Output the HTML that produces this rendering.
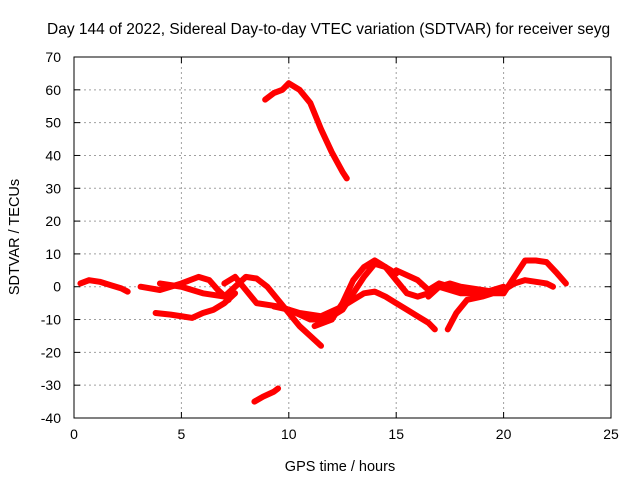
<!DOCTYPE html>
<html><head><meta charset="utf-8"><style>
html,body{margin:0;padding:0;background:#fff;}
svg{display:block;font-family:"Liberation Sans",sans-serif;}
</style></head><body>
<svg id="chart" width="640" height="480" viewBox="0 0 640 480">
<text x="47" y="34" font-size="15.5" fill="#000">Day 144 of 2022, Sidereal Day-to-day VTEC variation (SDTVAR) for receiver seyg</text>
<g id="grid"></g>
<g id="axes"></g>
<g id="series"></g>
<text x="340" y="471" font-size="14.5" text-anchor="middle">GPS time / hours</text>
<text transform="translate(19,237) rotate(-90)" font-size="14.5" text-anchor="middle">SDTVAR / TECUs</text>
</svg>
<script>
const xTicks=[0,5,10,15,20,25];
const yTicks=[-40,-30,-20,-10,0,10,20,30,40,50,60,70];
const track1=[[0.3,1],[0.7,2],[1.2,1.5],[1.7,0.5],[2.2,-0.5],[2.5,-1.5]];
const track2=[[8.9,57],[9.3,59],[9.7,60],[10,62],[10.5,60],[11,56],[11.5,48],[12,41],[12.5,35],[12.7,33]];
const track3=[[8.4,-35],[8.8,-33.5],[9.3,-32],[9.5,-31]];
const track4=[[3.8,-8],[4.5,-8.5],[5,-9],[5.5,-9.5],[6,-8],[6.5,-7],[7,-5],[7.5,-2]];
const track5=[[3.1,0],[4,-1],[5,1],[5.8,3],[6.3,2],[6.7,-1],[7.2,-4]];
const track6=[[4,1],[5,0],[6,-2],[7,-3],[7.5,0],[8,3],[8.5,2.5],[9,0],[9.5,-4],[10,-8],[10.5,-12],[11,-15],[11.5,-18]];
const track7=[[7,1],[7.5,3],[8,-1],[8.5,-5],[9.5,-6],[10.5,-8],[11.5,-9],[12.5,-6],[13,-4],[13.5,-2],[14,-1.5],[14.5,-3],[15,-5],[15.5,-7],[16,-9],[16.5,-11],[16.8,-13]];
const track8=[[11.2,-12],[12,-10],[12.5,-5],[13,2],[13.5,6],[14,8],[14.5,6],[15,2],[15.5,-2],[16,-3],[16.5,-2],[17,0],[17.5,1],[18,0],[19,-1],[20,-2]];
const track9=[[15,5],[16,2],[16.5,-1],[17,1],[18,-1],[19,-2],[20,-1],[20.5,1],[21,2],[22,1],[22.3,0]];
const track10=[[16.5,-3],[17,0],[17.5,-1],[18,-2],[19,-2],[20,0]];
const track11=[[17.4,-13],[17.8,-8],[18.3,-4],[19,-3],[19.5,-2],[20,-2],[20.5,3],[21,8],[21.5,8],[22,7.5],[22.5,4],[22.9,1]];
const track12=[[9.3,-6],[10,-7],[11,-10],[11.5,-10],[12,-9],[12.5,-7],[13,-2],[13.5,3],[14,7],[14.5,6],[15,4]];
const tracks=[track1,track2,track3,track4,track5,track6,track7,track8,track9,track10,track11,track12];

const L=74,R=611,T=57,B=418,xmin=0,xmax=25,ymin=-40,ymax=70;
const sx=v=>L+(v-xmin)/(xmax-xmin)*(R-L);
const sy=v=>B-(v-ymin)/(ymax-ymin)*(B-T);
const NS="http://www.w3.org/2000/svg";
function mk(tag,attrs,parent){const e=document.createElementNS(NS,tag);for(const k in attrs)e.setAttribute(k,attrs[k]);parent.appendChild(e);return e;}
const grid=document.getElementById('grid'),axes=document.getElementById('axes'),series=document.getElementById('series');
xTicks.forEach(t=>{
  const x=sx(t);
  if(t>xmin&&t<xmax){const g=mk('line',{x1:x,x2:x,y1:T,y2:B,stroke:'#a0a0a0','stroke-dasharray':'2,3','stroke-width':1},grid);
  
  }
  mk('line',{x1:x,x2:x,y1:B,y2:B-6,stroke:'#000'},axes);
  mk('line',{x1:x,x2:x,y1:T,y2:T+6,stroke:'#000'},axes);
  const lb=mk('text',{x:x,y:B+21,'font-size':14,'text-anchor':'middle'},axes);
  lb.textContent=t;
  
  
});
yTicks.forEach(t=>{
  const y=sy(t);
  if(t>ymin&&t<ymax){const g=mk('line',{x1:L,x2:R,y1:y,y2:y,stroke:'#a0a0a0','stroke-dasharray':'2,3','stroke-width':1},grid);
  
  }
  mk('line',{x1:L,x2:L+6,y1:y,y2:y,stroke:'#000'},axes);
  mk('line',{x1:R,x2:R-6,y1:y,y2:y,stroke:'#000'},axes);
  const lb=mk('text',{x:L-13,y:y+5,'font-size':14,'text-anchor':'end'},axes);
  lb.textContent=t;
  
  
});
const fr=mk('rect',{x:L,y:T,width:R-L,height:B-T,fill:'none',stroke:'#000'},axes);


tracks.forEach((tr,i)=>{
  const p=mk('polyline',{points:tr.map(d=>sx(d[0])+','+sy(d[1])).join(' '),fill:'none',stroke:'#ff0000','stroke-width':6,'stroke-linejoin':'round','stroke-linecap':'round'},series);
  
  
});
</script>
</body></html>
